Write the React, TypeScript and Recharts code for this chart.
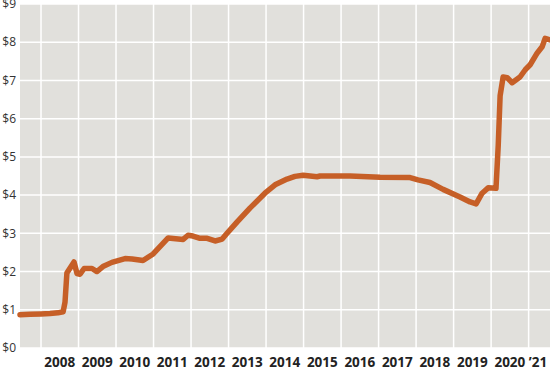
import React from 'react';
import { LineChart, Line, XAxis, YAxis, CartesianGrid } from 'recharts';

// decimal years (mid-2007 to mid-2021) and price in dollars
const dates = [
  2007.44, 2007.71, 2008.0, 2008.24, 2008.45, 2008.59, 2008.64, 2008.69, 2008.88, 2008.96,
  2009.04, 2009.15, 2009.36, 2009.49, 2009.65, 2009.89, 2010.24, 2010.43, 2010.72, 2010.99,
  2011.39, 2011.79, 2011.92, 2012.05, 2012.24, 2012.43, 2012.64, 2012.83, 2012.96, 2013.23,
  2013.57, 2013.97, 2014.24, 2014.56, 2014.77, 2014.99, 2015.36, 2015.44, 2016.24, 2017.04,
  2017.84, 2018.05, 2018.37, 2018.72, 2019.17, 2019.44, 2019.6, 2019.76, 2019.92, 2020.13,
  2020.19, 2020.24, 2020.32, 2020.43, 2020.56, 2020.77, 2020.91, 2021.04, 2021.23, 2021.36,
  2021.44, 2021.57,
];
const prices = [
  0.87, 0.88, 0.89, 0.9, 0.92, 0.95, 1.2, 1.96, 2.25, 1.95,
  1.93, 2.08, 2.08, 2.0, 2.13, 2.24, 2.34, 2.33, 2.29, 2.46,
  2.88, 2.84, 2.95, 2.93, 2.87, 2.87, 2.8, 2.85, 3.0, 3.3,
  3.66, 4.05, 4.27, 4.42, 4.49, 4.52, 4.48, 4.5, 4.5, 4.47,
  4.46, 4.4, 4.33, 4.15, 3.95, 3.82, 3.77, 4.05, 4.19, 4.18,
  5.3, 6.6, 7.09, 7.07, 6.94, 7.09, 7.28, 7.41, 7.72, 7.88,
  8.1, 8.06,
];

const gridYears = [2008, 2009, 2010, 2011, 2012, 2013, 2014, 2015, 2016, 2017, 2018, 2019, 2020, 2021];
const labelTicks = [2008.5, 2009.5, 2010.5, 2011.5, 2012.5, 2013.5, 2014.5, 2015.5, 2016.5, 2017.5, 2018.5, 2019.5, 2020.5, 2021.25];
const labelNames = ['2008', '2009', '2010', '2011', '2012', '2013', '2014', '2015', '2016', '2017', '2018', '2019', '2020', '\u201921'];
const dollarTicks = [0, 1, 2, 3, 4, 5, 6, 7, 8, 9];

const data = dates.map((t, i) => ({ t, price: prices[i] }));

export default function App() {
  return (
    <div style={{ position: 'absolute', left: 0, top: 0, width: 550, height: 370, background: '#fff' }}>
      <LineChart width={550} height={370} data={data} margin={{ top: 4, right: 0, bottom: 0, left: 0 }}>
        <CartesianGrid
          fill="#e1e0dc"
          stroke="#ffffff"
          strokeWidth={1.5}
          verticalValues={gridYears}
          horizontalValues={dollarTicks}
        />
        <XAxis
          dataKey="t"
          type="number"
          domain={[2007.44, 2021.57]}
          ticks={labelTicks}
          tickFormatter={(v: number) => labelNames[labelTicks.indexOf(v)]}
          axisLine={false}
          tickLine={false}
          height={22}
          tickSize={0}
          tickMargin={9}
          interval={0}
          tick={{ fontFamily: 'Open Sans', fontSize: 13.5, fontWeight: 700, fill: '#222' }}
        />
        <YAxis
          type="number"
          domain={[0, 9]}
          ticks={dollarTicks}
          tickFormatter={(v: number) => `$${v}`}
          axisLine={false}
          tickLine={false}
          width={20}
          tickSize={0}
          tickMargin={4}
          interval={0}
          tick={{ fontFamily: 'Open Sans', fontSize: 12, fill: '#333' }}
        />
        <Line
          type="linear"
          dataKey="price"
          stroke="#c65f27"
          strokeWidth={5.5}
          strokeLinejoin="round"
          strokeLinecap="round"
          dot={false}
          isAnimationActive={false}
        />
      </LineChart>
    </div>
  );
}
